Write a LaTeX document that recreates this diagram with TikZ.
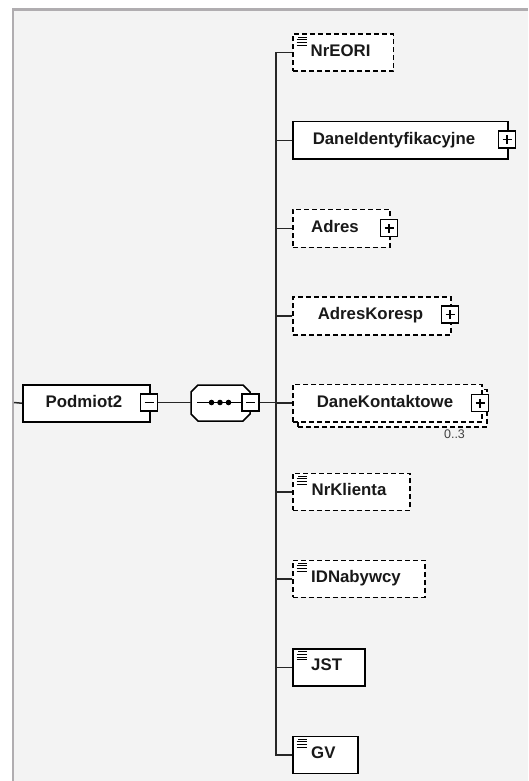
\documentclass[tikz,border=0pt]{standalone}
\usepackage{fontspec}
\setmainfont{Liberation Sans}
\begin{document}
\begin{tikzpicture}[x=1pt,y=-1pt,
  elem/.style={draw=black, fill=white, line width=1.5pt, inner sep=0pt, anchor=north west},
  opt/.style={elem, dash pattern=on 5pt off 3pt},
  lbl/.style={font=\bfseries\fontsize{16.8}{17}\selectfont, inner sep=0pt, text=black!90},
  pmbox/.style={draw=black, fill=white, line width=1.4pt, minimum size=17pt, inner sep=0pt},
  wire/.style={line width=1.5pt, draw=black!85},
  ico/.style={line width=0.9pt}]
\definecolor{bgc}{HTML}{F3F3F3}
\definecolor{brd}{HTML}{B0ADB0}
\useasboundingbox (0,0) rectangle (528,781);
\fill[white] (0,0) rectangle (528,781);
\fill[brd] (11.5,8) rectangle (528,781);
\fill[bgc] (14,11) rectangle (528,781);

% root element
\node[elem, minimum width=127pt, minimum height=37pt] (pod) at (22,384) {};
\node[lbl, anchor=base] (podT) at (84,407) {Podmiot2};
\coordinate (inL) at (14,402.5);
\draw[wire] (inL) -- (pod.west);
\node[pmbox] (podm) at (149,402.5) {};
\draw[line width=1.3pt] ([xshift=-4.5pt]podm.center) -- ([xshift=4.5pt]podm.center);

% sequence compositor
\coordinate (seqL) at (191,402.5);
\draw[line width=1.5pt, fill=white] (191,392) -- (198,385) -- (243,385) -- (250,392) -- (250,414) -- (243,421) -- (198,421) -- (191,414) -- cycle;
\draw[wire] (podm.east) -- (seqL);
\draw[line width=1.4pt] (197,402.5) -- (244,402.5);
\foreach \dx in {211.5,220,228.5} \fill (\dx,402.5) circle (2.8pt);
\node[pmbox] (seqm) at (250.5,402.5) {};
\draw[line width=1.3pt] ([xshift=-4.5pt]seqm.center) -- ([xshift=4.5pt]seqm.center);
\coordinate (bus) at (276,402.5);
\draw[wire] (seqm.east) -- (bus);

% children
\node[opt, minimum width=100.5pt, minimum height=37pt] (nreori) at (292,33.5) {};
\node[elem, minimum width=215pt, minimum height=37pt] (daneid) at (292,121) {};
\node[opt, minimum width=97pt, minimum height=38pt] (adres) at (292,208.5) {};
\node[opt, minimum width=158pt, minimum height=38pt] (adresk) at (292,296) {};
\node[opt, minimum width=189pt, minimum height=37.5pt] (danekB) at (297,388.5) {};
\node[opt, minimum width=189pt, minimum height=37.5pt] (danek) at (292,383.5) {};
\node[opt, minimum width=117pt, minimum height=37pt] (nrkl) at (292,472.5) {};
\node[opt, minimum width=132pt, minimum height=37pt] (idn) at (292,559.5) {};
\node[elem, minimum width=72pt, minimum height=37pt] (jst) at (292,648) {};
\node[elem, minimum width=65pt, minimum height=37pt] (gv) at (292,735.5) {};

\foreach \c in {nreori,daneid,adres,adresk,danek,nrkl,idn,jst,gv}
  \draw[wire] (bus) |- (\c.west);

% plus boxes
\foreach \n/\px/\py in {pDI/507/139.5, pAd/389/228, pAK/450/314.5, pDK/480/403} {
  \node[pmbox] (\n) at (\px,\py) {};
  \draw[line width=1.3pt] ([xshift=-4.5pt]\n.center) -- ([xshift=4.5pt]\n.center)
                          ([yshift=-4.5pt]\n.center) -- ([yshift=4.5pt]\n.center);
}

% simple-content icons
\foreach \c in {nreori,nrkl,idn,jst,gv} {
  \begin{scope}[shift={(\c.north west)}]
    \draw[ico] (6,3.5) -- (15,3.5);
    \draw[ico] (4.5,6.3) -- (15,6.3);
    \draw[ico] (4.5,9.1) -- (15,9.1);
    \draw[ico] (4.5,11.9) -- (15,11.9);
  \end{scope}
}

% labels
\node[lbl, anchor=base west] (nreoriT) at (310.5,56.5) {NrEORI};
\node[lbl, anchor=base] (daneidT) at (394,144) {DaneIdentyfikacyjne};
\node[lbl, anchor=base] (adresT) at (335,232) {Adres};
\node[lbl, anchor=base] (adreskT) at (370.5,319.5) {AdresKoresp};
\node[lbl, anchor=base] (danekT) at (385,407) {DaneKontaktowe};
\node[lbl, anchor=base west] (nrklT) at (311.5,495.5) {NrKlienta};
\node[lbl, anchor=base west] (idnT) at (311,582.5) {IDNabywcy};
\node[lbl, anchor=base west] (jstT) at (311,670.5) {JST};
\node[lbl, anchor=base west] (gvT) at (311,758.5) {GV};
\node[font=\fontsize{12.5}{13}\selectfont, text=black!75, inner sep=0pt, anchor=base] (mult) at (454.5,438) {0..3};
\end{tikzpicture}
\end{document}
